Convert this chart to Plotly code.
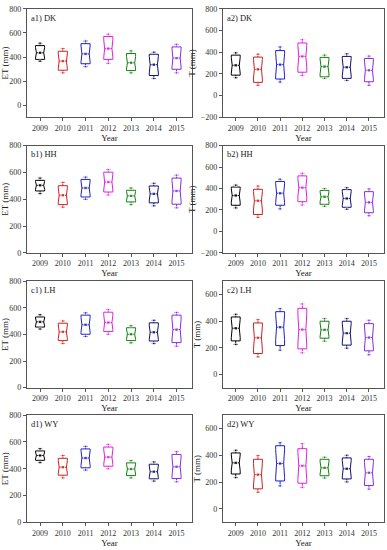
import plotly.graph_objects as go

years = ["2009", "2010", "2011", "2012", "2013", "2014", "2015"]
colors = ["#000000", "#d02020", "#1f1fd0", "#e020e0", "#108010", "#10106e", "#8a2be2"]

# Panel data: [upper whisker, q3, median, q1, lower whisker]
a1_hi = [515, 470, 533, 590, 451, 440, 505]
a1_q3 = [495, 448, 511, 571, 429, 423, 484]
a1_md = [435, 366, 426, 470, 352, 336, 391]
a1_q1 = [380, 290, 344, 380, 287, 246, 298]
a1_lo = [365, 268, 320, 347, 268, 221, 268]

a2_hi = [394, 382, 448, 515, 373, 385, 364]
a2_q3 = [373, 355, 415, 485, 352, 361, 342]
a2_md = [279, 242, 285, 361, 267, 261, 233]
a2_q1 = [188, 121, 152, 215, 173, 158, 127]
a2_lo = [164, 94, 124, 185, 158, 139, 94]

b1_hi = [558, 526, 565, 622, 484, 519, 580]
b1_q3 = [541, 501, 548, 602, 467, 499, 558]
b1_md = [504, 430, 484, 528, 425, 440, 462]
b1_q1 = [462, 360, 417, 454, 380, 373, 363]
b1_lo = [442, 341, 400, 432, 360, 351, 336]

b2_hi = [432, 423, 487, 542, 399, 408, 396]
b2_q3 = [414, 393, 466, 518, 381, 390, 371]
b2_md = [335, 286, 356, 408, 323, 307, 271]
b2_q1 = [244, 158, 244, 277, 253, 225, 174]
b2_lo = [219, 131, 210, 247, 234, 207, 146]

c1_hi = [549, 502, 563, 588, 466, 507, 566]
c1_q3 = [532, 485, 546, 568, 451, 488, 546]
c1_md = [495, 420, 473, 490, 402, 417, 437]
c1_q1 = [456, 354, 402, 422, 354, 351, 339]
c1_lo = [441, 332, 385, 402, 337, 332, 312]

c2_hi = [452, 412, 495, 530, 420, 420, 407]
c2_q3 = [432, 387, 472, 497, 400, 400, 382]
c2_md = [347, 275, 355, 337, 335, 310, 277]
c2_q1 = [252, 157, 217, 192, 272, 220, 177]
c2_lo = [225, 132, 182, 162, 250, 197, 147]

d1_hi = [550, 499, 567, 582, 461, 451, 528]
d1_q3 = [533, 478, 548, 562, 444, 434, 507]
d1_md = [499, 412, 480, 487, 398, 378, 415]
d1_q1 = [463, 352, 407, 419, 349, 325, 327]
d1_lo = [446, 332, 390, 400, 332, 308, 303]

d2_hi = [438, 398, 494, 487, 386, 401, 391]
d2_q3 = [418, 371, 472, 450, 371, 381, 371]
d2_md = [344, 256, 339, 322, 307, 300, 270]
d2_q1 = [261, 150, 209, 192, 248, 224, 175]
d2_lo = [234, 125, 172, 160, 231, 202, 148]

panels = [
    ("a1) DK", "ET (mm)", (a1_hi, a1_q3, a1_md, a1_q1, a1_lo), [-100, 800], [0, 200, 400, 600, 800]),
    ("a2) DK", "T (mm)", (a2_hi, a2_q3, a2_md, a2_q1, a2_lo), [-200, 800], [-200, 0, 200, 400, 600, 800]),
    ("b1) HH", "ET (mm)", (b1_hi, b1_q3, b1_md, b1_q1, b1_lo), [0, 800], [0, 200, 400, 600, 800]),
    ("b2) HH", "T (mm)", (b2_hi, b2_q3, b2_md, b2_q1, b2_lo), [-200, 800], [-200, 0, 200, 400, 600, 800]),
    ("c1) LH", "ET (mm)", (c1_hi, c1_q3, c1_md, c1_q1, c1_lo), [0, 800], [0, 200, 400, 600, 800]),
    ("c2) LH", "T (mm)", (c2_hi, c2_q3, c2_md, c2_q1, c2_lo), [-100, 700], [0, 200, 400, 600]),
    ("d1) WY", "ET (mm)", (d1_hi, d1_q3, d1_md, d1_q1, d1_lo), [0, 800], [0, 200, 400, 600, 800]),
    ("d2) WY", "T (mm)", (d2_hi, d2_q3, d2_md, d2_q1, d2_lo), [-100, 700], [0, 200, 400, 600]),
]

W, H = 387, 550
col_px = [(25, 191), (222, 384)]
row_px = [(5, 115), (144, 253), (282, 390), (418, 527)]

FONT = "Liberation Serif"
fig = go.Figure()
layout = {}
annotations = []

for i, (label, ytitle, stats, yr, yt) in enumerate(panels):
    r, c = divmod(i, 2)
    n = i + 1
    xa = "x" if n == 1 else f"x{n}"
    ya = "y" if n == 1 else f"y{n}"
    hi, q3, md, q1, lo = stats
    for j, yr_lbl in enumerate(years):
        span = 0.8 * min(q3[j] - md[j], md[j] - q1[j])
        fig.add_trace(go.Box(
            x=[yr_lbl], q1=[q1[j]], median=[md[j]], q3=[q3[j]],
            lowerfence=[lo[j]], upperfence=[hi[j]],
            notched=True, notchspan=[span], notchwidth=0.1,
            width=0.4, whiskerwidth=0.45,
            line=dict(color=colors[j], width=1),
            fillcolor="rgba(0,0,0,0)",
            boxpoints=False, showlegend=False, hoverinfo="skip",
            xaxis=xa, yaxis=ya,
        ))
        fig.add_trace(go.Scatter(
            x=[yr_lbl, yr_lbl, yr_lbl], y=[md[j], lo[j], hi[j]], mode="markers",
            marker=dict(symbol="square", size=[3.5, 2.5, 2.5], color=colors[j]),
            showlegend=False, hoverinfo="skip", xaxis=xa, yaxis=ya,
        ))
    x0, x1 = col_px[c]
    y0, y1 = row_px[r]
    axis_common = dict(showline=True, linecolor="#555", linewidth=1, mirror=True,
                       ticks="outside", ticklen=3, tickcolor="#555", showgrid=False,
                       zeroline=False, tickfont=dict(family=FONT, size=8, color="#333"))
    layout["xaxis" if n == 1 else f"xaxis{n}"] = dict(
        domain=[x0 / W, x1 / W], anchor=ya, type="category",
        categoryorder="array", categoryarray=years, range=[-0.58, 6.68],
        title=dict(text="Year", font=dict(family=FONT, size=9, color="#222"), standoff=2),
        **axis_common)
    layout["yaxis" if n == 1 else f"yaxis{n}"] = dict(
        domain=[1 - y1 / H, 1 - y0 / H], anchor=xa, range=yr, tickvals=yt,
        title=dict(text=ytitle, font=dict(family=FONT, size=9, color="#222"), standoff=3),
        **axis_common)
    annotations.append(dict(text=label, xref=f"{xa} domain", yref=f"{ya} domain",
                            x=0.015, y=0.985, xanchor="left", yanchor="top", showarrow=False,
                            font=dict(family=FONT, size=8.5, color="#222")))

fig.update_layout(width=W, height=H, margin=dict(l=0, r=0, t=0, b=0),
                  paper_bgcolor="white", plot_bgcolor="white",
                  annotations=annotations, boxmode="overlay", **layout)
fig.write_html("out.html", config={"displayModeBar": False, "staticPlot": True},
               post_script="document.body.style.margin='0';document.body.style.padding='0';"
                           "document.body.style.overflow='hidden';")
